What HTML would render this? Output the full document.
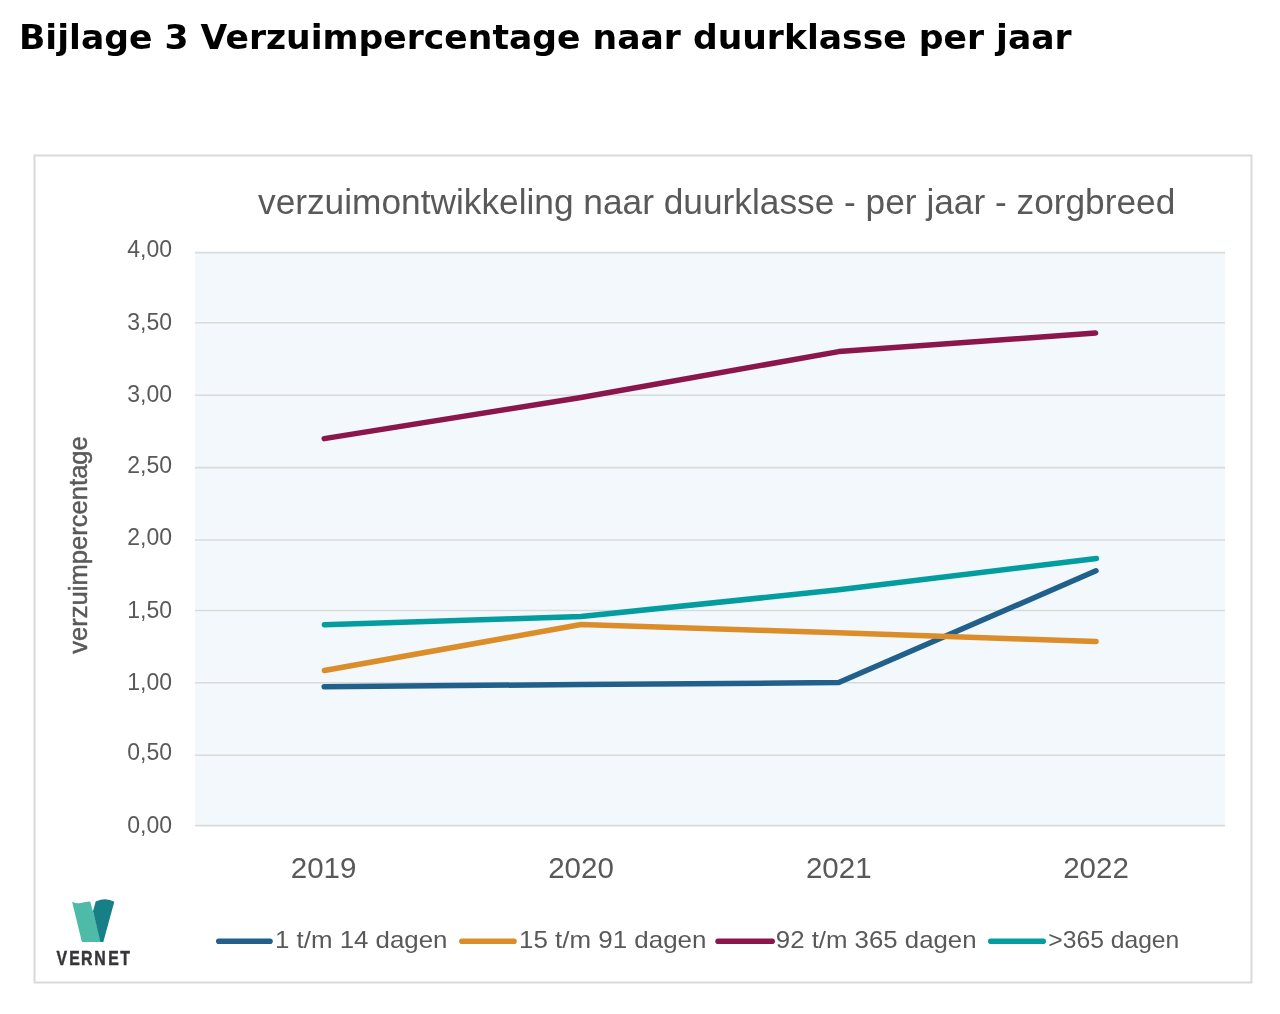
<!DOCTYPE html>
<html lang="nl">
<head>
<meta charset="utf-8">
<title>Bijlage 3 Verzuimpercentage naar duurklasse per jaar</title>
<style>
html,body{margin:0;padding:0;background:#fff;}
body{width:1280px;height:1014px;overflow:hidden;position:relative;}
svg{position:absolute;left:0;top:0;display:block;filter:blur(0.45px);}
.h{font-family:"DejaVu Sans","Liberation Sans",sans-serif;font-weight:bold;fill:#000;}
.c{font-family:"Liberation Sans",Arial,sans-serif;fill:#595959;}
</style>
</head>
<body>
<svg width="1280" height="1014" viewBox="0 0 1280 1014">
  <!-- page heading -->
  <text class="h" x="19" y="49" font-size="34.6">Bijlage 3 Verzuimpercentage naar duurklasse per jaar</text>

  <!-- chart frame -->
  <rect x="34.5" y="155.5" width="1217" height="827" fill="#fff" stroke="#d9d9d9" stroke-width="2"/>

  <!-- chart title -->
  <text class="c" x="258" y="213.7" font-size="35.27">verzuimontwikkeling naar duurklasse - per jaar - zorgbreed</text>

  <!-- plot area -->
  <rect x="195" y="252.6" width="1030" height="573" fill="#f2f8fb"/>
  <g stroke="#dadada" stroke-width="1.6" fill="none">
    <line x1="195" x2="1225" y1="252.6" y2="252.6"/>
    <line x1="195" x2="1225" y1="322.8" y2="322.8"/>
    <line x1="195" x2="1225" y1="395.2" y2="395.2"/>
    <line x1="195" x2="1225" y1="467.6" y2="467.6"/>
    <line x1="195" x2="1225" y1="540.0" y2="540.0"/>
    <line x1="195" x2="1225" y1="610.5" y2="610.5"/>
    <line x1="195" x2="1225" y1="682.8" y2="682.8"/>
    <line x1="195" x2="1225" y1="755.3" y2="755.3"/>
    <line x1="195" x2="1225" y1="825.6" y2="825.6"/>
  </g>

  <!-- y axis labels -->
  <g class="c" font-size="23" text-anchor="end">
    <text x="172" y="257.2">4,00</text>
    <text x="172" y="329.9">3,50</text>
    <text x="172" y="402.2">3,00</text>
    <text x="172" y="473">2,50</text>
    <text x="172" y="545.3">2,00</text>
    <text x="172" y="617.7">1,50</text>
    <text x="172" y="690">1,00</text>
    <text x="172" y="760.4">0,50</text>
    <text x="172" y="832.6">0,00</text>
  </g>

  <!-- y axis title -->
  <text class="c" font-size="25.6" text-anchor="middle" stroke="#595959" stroke-width="0.45" transform="translate(86.6 545) rotate(-90)">verzuimpercentage</text>

  <!-- x axis labels -->
  <g class="c" font-size="29.5" text-anchor="middle">
    <text x="323.6" y="878.1">2019</text>
    <text x="581" y="878.1">2020</text>
    <text x="838.75" y="878.1">2021</text>
    <text x="1096" y="878.1">2022</text>
  </g>

  <!-- series -->
  <g fill="none" stroke-width="5.5" stroke-linecap="round" stroke-linejoin="round">
    <polyline stroke="#22608c" points="324.2,686.8 581,684.5 838.75,682.6 1096,570.8"/>
    <polyline stroke="#db8d29" points="324.4,670.5 581,624.5 838.75,632.7 1096,641.5"/>
    <polyline stroke="#8a164b" points="324.2,438.6 581,397.5 838.75,351.6 1095.6,333.1"/>
    <polyline stroke="#039da0" points="324.4,624.7 581,616.6 838.75,589.8 1096.4,558.6"/>
  </g>

  <!-- legend -->
  <g stroke-width="5.6" stroke-linecap="round">
    <line x1="218.8" x2="270" y1="941.2" y2="941.2" stroke="#22608c"/>
    <line x1="461.9" x2="514" y1="941.2" y2="941.2" stroke="#db8d29"/>
    <line x1="718.1" x2="772.1" y1="941.2" y2="941.2" stroke="#8a164b"/>
    <line x1="990.8" x2="1043.2" y1="941.2" y2="941.2" stroke="#039da0"/>
  </g>
  <g class="c" font-size="23.6">
    <text x="275" y="948.4" textLength="172.5" lengthAdjust="spacingAndGlyphs">1 t/m 14 dagen</text>
    <text x="519" y="948.4" textLength="187.4" lengthAdjust="spacingAndGlyphs">15 t/m 91 dagen</text>
    <text x="775.8" y="948.4" textLength="200.7" lengthAdjust="spacingAndGlyphs">92 t/m 365 dagen</text>
    <text x="1048.3" y="948.4" textLength="131" lengthAdjust="spacingAndGlyphs">&gt;365 dagen</text>
  </g>

  <!-- VERNET logo -->
  <g>
    <path d="M72.1,901.8 Q76.5,904 80.8,903 Q85.5,901.6 90.2,901.4 L101.3,942 L81.9,942 Z" fill="#4dbba8"/>
    <path d="M95.7,901.4 Q100.5,899.3 105.2,899.3 Q110,899.6 114.3,901.8 L103.3,942 L100.5,942 L93,911.3 Z" fill="#177f86"/>
  </g>
  <text transform="scale(0.78 1)" y="965" x="72.6 88.9 104.0 120.7 138.9 154.2" font-family="'Liberation Sans',Arial,sans-serif" font-weight="bold" font-size="20.3" fill="#36363a" stroke="#36363a" stroke-width="0.5">VERNET</text>
</svg>
</body>
</html>
